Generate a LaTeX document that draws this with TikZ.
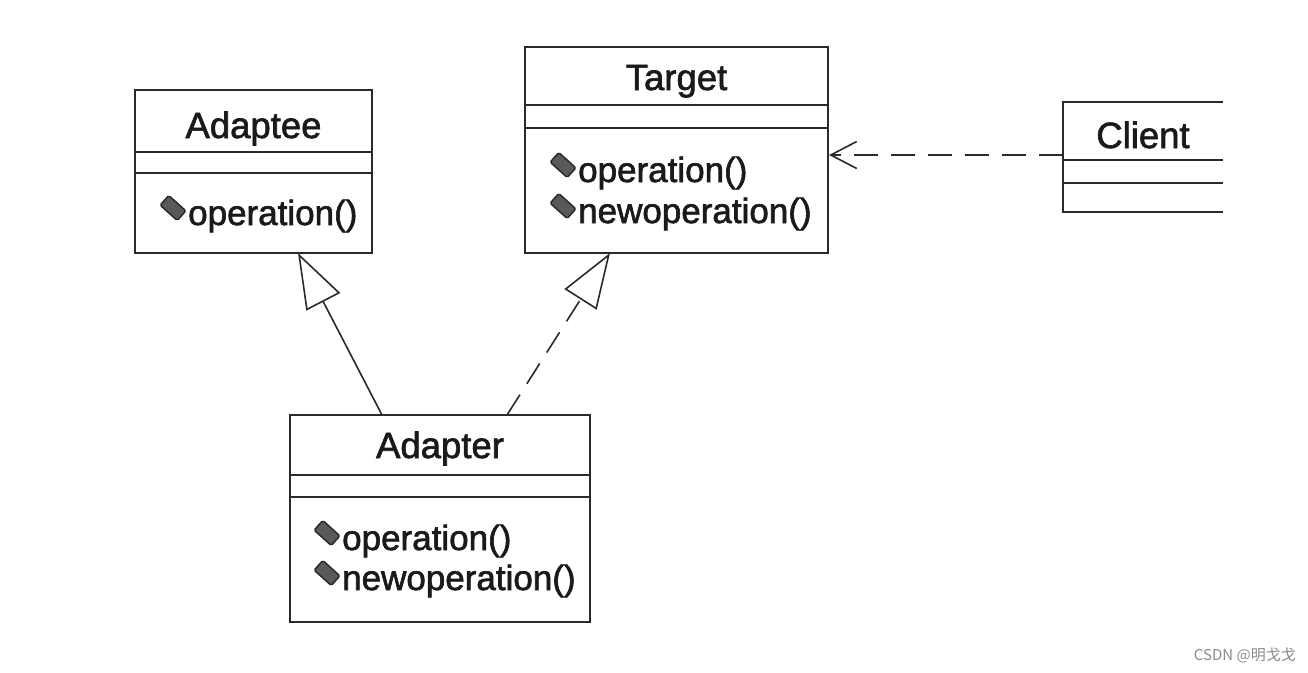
\documentclass[tikz,border=0pt]{standalone}
\usepackage{fontspec}
\setmainfont{Liberation Sans}
\newfontfamily\umlfont[FakeBold=1.8]{Liberation Sans}
\newfontfamily\cjkfont{Noto Sans CJK SC}
\usetikzlibrary{arrows.meta,calc}
\definecolor{linec}{HTML}{2A2A2A}
\definecolor{textc}{HTML}{1A1A1A}
\tikzset{
  classbox/.style={draw=linec, line width=1.8pt, anchor=north west, inner sep=0pt, outer sep=0pt},
  hiddenbox/.style={anchor=north west, inner sep=0pt, outer sep=0pt},
  sepline/.style={draw=linec, line width=1.8pt},
  classname/.style={anchor=base, inner sep=0pt, text=textc, font=\umlfont\fontsize{36.5}{40}\selectfont},
  optext/.style={anchor=base west, inner sep=0pt, text=textc, font=\umlfont\fontsize{35}{40}\selectfont},
  opicon/.style={draw=black!85, fill=black!65, line width=1.4pt, rounded corners=1.5pt, rotate=-42, minimum width=23pt, minimum height=13pt, inner sep=0pt},
  conn/.style={draw=linec, line width=1.6pt},
  dashconn/.style={conn, dash pattern=on 24pt off 13pt},
  genhead/.style={-{Triangle[open, length=55pt, width=38pt, line width=1.6pt]}},
  dephead/.style={-{Straight Barb[length=26pt, width=27pt, line width=1.6pt]}},
  wmark/.style={anchor=east, inner sep=0pt, text=black!45, font=\cjkfont\fontsize{15}{18}\selectfont}
}
\begin{document}
\begin{tikzpicture}[x=1pt,y=-1pt]
\useasboundingbox[fill=white] (0,0) rectangle (1308,672);

% Adaptee
\node[classbox, minimum width=237pt, minimum height=163pt] (adaptee) at (135,90) {};
\draw[sepline] ($(adaptee.north west)+(0,62)$) -- ($(adaptee.north east)+(0,62)$);
\draw[sepline] ($(adaptee.north west)+(0,83)$) -- ($(adaptee.north east)+(0,83)$);
\node[classname] (adapteename) at (253.5,138) {Adaptee};
\node[optext] (adapteeop1) at (188,225) {operation()};
\node[opicon] (adapteeic1) at (173,208) {};

% Target
\node[classbox, minimum width=303pt, minimum height=206pt] (target) at (525,47) {};
\draw[sepline] ($(target.north west)+(0,58)$) -- ($(target.north east)+(0,58)$);
\draw[sepline] ($(target.north west)+(0,81)$) -- ($(target.north east)+(0,81)$);
\node[classname] (targetname) at (676.5,90) {Target};
\node[optext] (targetop1) at (578,182) {operation()};
\node[optext] (targetop2) at (578,223) {newoperation()};
\node[opicon] (targetic1) at (563,165) {};
\node[opicon] (targetic2) at (563,206) {};

% Client (cut at the right edge)
\node[hiddenbox, minimum width=160pt, minimum height=110pt] (client) at (1063,102) {};
\draw[sepline] (client.north east) -- (client.north west) -- (client.south west) -- (client.south east);
\draw[sepline] ($(client.north west)+(0,58)$) -- ($(client.north east)+(0,58)$);
\draw[sepline] ($(client.north west)+(0,81)$) -- ($(client.north east)+(0,81)$);
\node[classname] (clientname) at (1143,148) {Client};

% Adapter
\node[classbox, minimum width=300pt, minimum height=207pt] (adapter) at (290,415) {};
\draw[sepline] ($(adapter.north west)+(0,60)$) -- ($(adapter.north east)+(0,60)$);
\draw[sepline] ($(adapter.north west)+(0,82)$) -- ($(adapter.north east)+(0,82)$);
\node[classname] (adaptername) at (440,458) {Adapter};
\node[optext] (adapterop1) at (342,550) {operation()};
\node[optext] (adapterop2) at (342,590) {newoperation()};
\node[opicon] (adapteric1) at (327,533) {};
\node[opicon] (adapteric2) at (327,573) {};

% connectors
\coordinate (genA) at ($(adapter.north west)+(92,0)$);
\coordinate (genAt) at ($(adaptee.south west)+(163,0)$);
\coordinate (genB) at ($(adapter.north west)+(217,0)$);
\coordinate (genBt) at ($(target.south west)+(85,0)$);
\coordinate (depS) at ($(client.north west)+(0,53)$);
\coordinate (depT) at ($(target.north east)+(1,108)$);

\draw[conn, genhead] (genA) -- (genAt);
\draw[dashconn, genhead] (genB) -- (genBt);
\draw[dashconn, dephead] (depS) -- (depT);

\node[wmark] (wm) at (1296,656) {CSDN @明戈戈};
\end{tikzpicture}
\end{document}
